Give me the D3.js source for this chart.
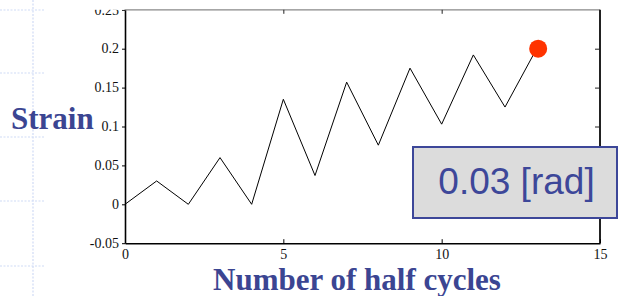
<!DOCTYPE html>
<html><head><meta charset="utf-8">
<script src="https://cdn.jsdelivr.net/npm/d3@7"></script>
<style>body{margin:0;background:#fff}svg{display:block}</style>
</head><body>
<svg id="c" width="618" height="296"></svg>
<script>
const halfCycles = [0,1,2,3,4,5,6,7,8,9,10,11,12,13];
const strain = [0,0.03,0,0.06,0,0.135,0.037,0.157,0.076,0.175,0.103,0.192,0.125,0.2];
const xTicks = [0,5,10,15];
const yTicks = [-0.05,0,0.05,0.1,0.15,0.2,0.25];
const yTickLabels = ["-0.05","0","0.05","0.1","0.15","0.2","0.25"];
const markerIndex = 13;
const boxText = "0.03 [rad]";
const yTitle = "Strain";
const xTitle = "Number of half cycles";

const svg = d3.select("#c");
const L=125, R=600, T=9.8, B=243.2;
const x = d3.scaleLinear().domain([0,15]).range([L,R]);
const y = d3.scaleLinear().domain([-0.05,0.25]).range([B,T]);

// background slide decoration
const bg = svg.append("g").attr("stroke","#d0dbf5").attr("stroke-width",1.2).attr("stroke-dasharray","2,1.5");
bg.append("line").attr("x1",33).attr("x2",33).attr("y1",0).attr("y2",296);
[10,73,137,201,266].forEach(v=>bg.append("line").attr("x1",0).attr("x2",45).attr("y1",v).attr("y2",v));

// top and right box lines
svg.append("line").attr("x1",L).attr("x2",R).attr("y1",T).attr("y2",T).attr("stroke","#888").attr("stroke-width",1.2);
svg.append("line").attr("x1",R).attr("x2",R).attr("y1",T).attr("y2",B).attr("stroke","#222").attr("stroke-width",2);

// top ticks
svg.append("g").attr("transform",`translate(0,${T})`)
  .call(d3.axisBottom(x).tickValues([5,10]).tickSize(4).tickFormat(""))
  .call(g=>{g.select(".domain").remove();g.selectAll("line").attr("stroke","#222");});
// right ticks
svg.append("g").attr("transform",`translate(${R},0)`)
  .call(d3.axisLeft(y).tickValues([0.1,0.15,0.2]).tickSize(5).tickFormat(""))
  .call(g=>{g.select(".domain").remove();g.selectAll("line").attr("stroke","#222");});

// bottom axis
const xa = svg.append("g").attr("transform",`translate(0,${B})`)
  .call(d3.axisTop(x).tickValues(xTicks).tickSize(4).tickSizeOuter(0).tickFormat(d3.format("d")));
xa.select(".domain").attr("stroke","#000").attr("stroke-width",1.6);
xa.selectAll(".tick line").attr("stroke","#000");
xa.selectAll(".tick text").attr("y",null).attr("dy",null).attr("transform","translate(0,16)")
  .attr("font-family","'Liberation Serif',serif").attr("font-size",14).attr("fill","#111");

// left axis
const ya = svg.append("g").attr("transform",`translate(${L},0)`)
  .call(d3.axisLeft(y).tickValues(yTicks).tickSize(3).tickSizeOuter(0).tickPadding(3).tickFormat((d,i)=>yTickLabels[i]));
ya.select(".domain").attr("stroke","#000").attr("stroke-width",1.6);
ya.selectAll(".tick line").attr("stroke","#000");
ya.selectAll(".tick text").attr("font-family","'Liberation Serif',serif").attr("font-size",14).attr("fill","#111").attr("dy","0.3em");

// clip top of 0.25 label
svg.append("rect").attr("x",60).attr("y",0).attr("width",L-61).attr("height",T).attr("fill","#fff");

// data line
svg.append("path").datum(halfCycles.map((h,i)=>[h,strain[i]]))
  .attr("fill","none").attr("stroke","#000").attr("stroke-width",1)
  .attr("d",d3.line().x(d=>x(d[0])).y(d=>y(d[1])));

// marker
svg.append("circle").attr("cx",x(halfCycles[markerIndex])+1.5).attr("cy",y(strain[markerIndex]))
  .attr("r",9).attr("fill","#ff3300");

// box
svg.append("rect").attr("x",413).attr("y",147).attr("width",204).attr("height",71)
  .attr("fill","#dcdcdc").attr("stroke","#3d4799").attr("stroke-width",2);
svg.append("text").attr("x",516.5).attr("y",193.5).attr("text-anchor","middle")
  .attr("font-family","'Liberation Sans',Arial,sans-serif").attr("font-size",37).attr("fill","#3d4799").text(boxText);

// titles
svg.append("text").attr("x",11).attr("y",129).attr("font-family","'Liberation Serif',serif").attr("font-weight","bold")
  .attr("font-size",31).attr("fill","#3b4592").text(yTitle);
svg.append("text").attr("x",357).attr("y",290).attr("text-anchor","middle").attr("font-family","'Liberation Serif',serif").attr("font-weight","bold")
  .attr("font-size",31).attr("fill","#3b4592").text(xTitle);
</script>
</body></html>
